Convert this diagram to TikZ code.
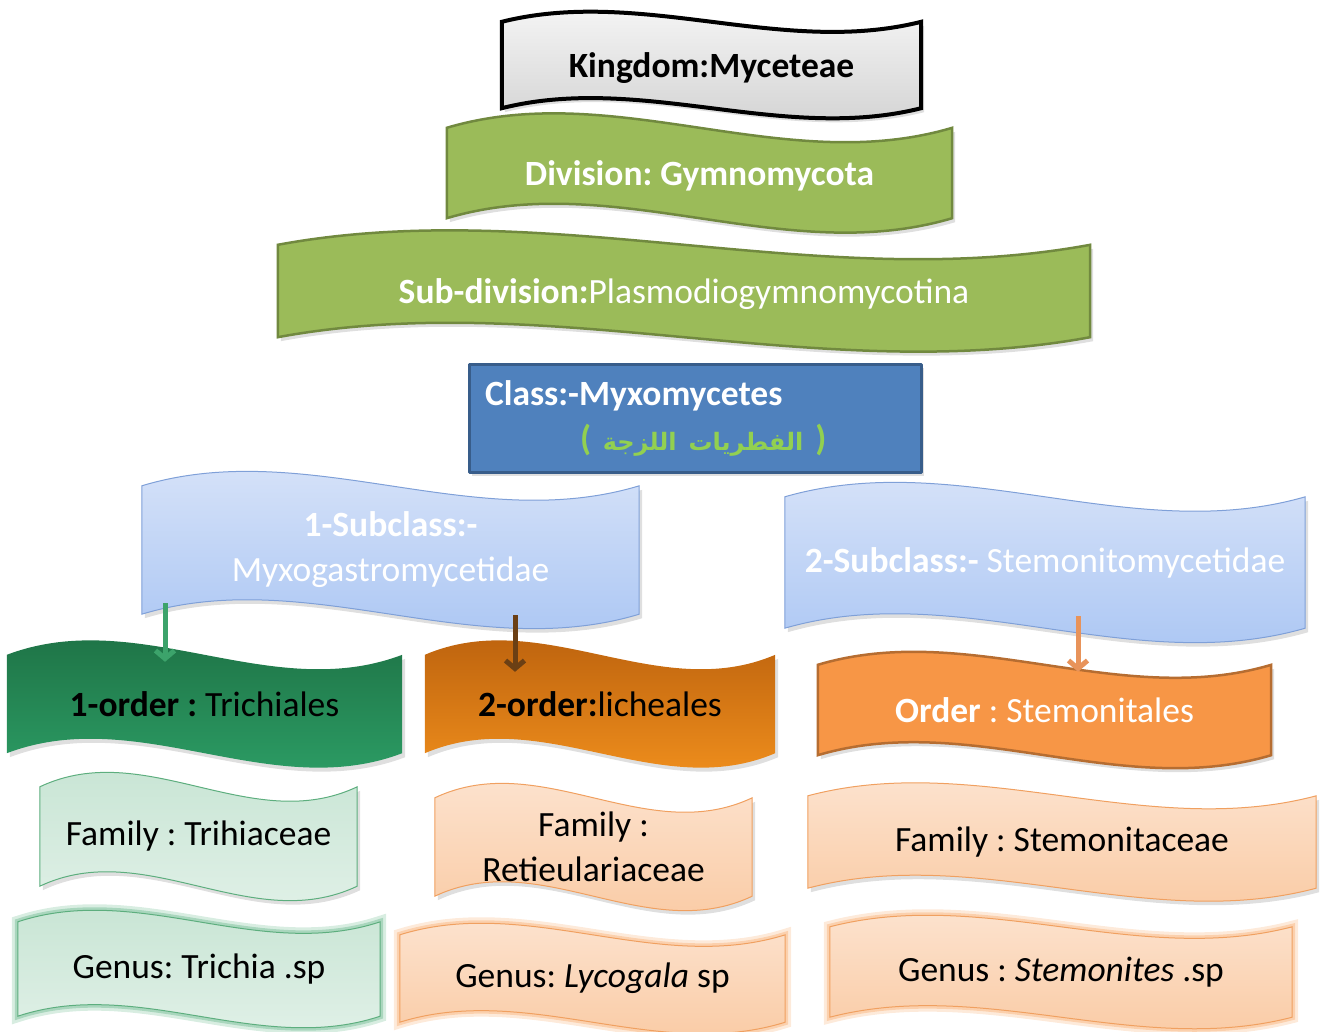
\documentclass[tikz,border=0pt]{standalone}
\usepackage{fontspec}
\setmainfont{Carlito}
\newfontfamily\arabicfont[Script=Arabic]{DejaVu Sans}
\TeXXeTstate=1
\frenchspacing
\usetikzlibrary{calc,backgrounds,shadows,arrows.meta}

\definecolor{leafgreen}{HTML}{9BBB59}
\definecolor{leafedge}{HTML}{71893F}
\definecolor{classblue}{HTML}{4F81BD}
\definecolor{classedge}{HTML}{385D8A}
\definecolor{arabgreen}{HTML}{92D050}
\definecolor{skytop}{HTML}{DCE6F9}
\definecolor{skybottom}{HTML}{A6C3F3}
\definecolor{skyedge}{HTML}{7FA0D8}
\definecolor{pinetop}{HTML}{1C6B40}
\definecolor{pinebottom}{HTML}{2EA46A}
\definecolor{rusttop}{HTML}{B35A0B}
\definecolor{rustbottom}{HTML}{F8961F}
\definecolor{orange}{HTML}{F79646}
\definecolor{orangeedge}{HTML}{B66D31}
\definecolor{minttop}{HTML}{C4E3D1}
\definecolor{mintbottom}{HTML}{E4F2EA}
\definecolor{mintedge}{HTML}{5DAE7E}
\definecolor{peachtop}{HTML}{FDE7D6}
\definecolor{peachbottom}{HTML}{F9C79E}
\definecolor{peachedge}{HTML}{F0A060}
\definecolor{arrowgreen}{HTML}{3CA36B}
\definecolor{arrowbrown}{HTML}{6B3F14}
\definecolor{arroworange}{HTML}{E8935A}

% wave banner round a node: node name, bend, path options
\newcommand{\wave}[3]{%
  \path[#3] (#1.north west)
    .. controls ($(#1.north west)!.333!(#1.north east)+(0,-#2)$)
    and ($(#1.north west)!.667!(#1.north east)+(0,#2)$) .. (#1.north east)
    -- (#1.south east)
    .. controls ($(#1.south west)!.667!(#1.south east)+(0,#2)$)
    and ($(#1.south west)!.333!(#1.south east)+(0,-#2)$) .. (#1.south west)
    -- cycle;}

\begin{document}
\begin{tikzpicture}[x=1pt, y=-1pt, line join=round]
    \tikzstyle{band} = [inner sep=0pt, align=center, font=\fontsize{35.5}{45}\selectfont]
    \tikzstyle{dropped} = [drop shadow={opacity=0.25, shadow xshift=3pt, shadow yshift=-4pt}]
    \tikzstyle{greenglow} = [preaction={draw=arrowgreen, line width=12pt, opacity=0.2},
                             preaction={draw=arrowgreen, line width=6pt, opacity=0.3}]
    \tikzstyle{orangeglow} = [preaction={draw=orange, line width=12pt, opacity=0.2},
                              preaction={draw=orange, line width=6pt, opacity=0.3}]
    \tikzstyle{arrowline} = [-{Straight Barb[length=8pt, width=19pt]}, line width=5pt]

    \useasboundingbox (0,0) rectangle (1327,1032);

    \node[band, text depth=0pt, minimum width=419pt, minimum height=86pt] (kingdom) at (711.5,65) {\textbf{Kingdom:Myceteae}};
    \node[band, text depth=0pt, white, minimum width=505pt, minimum height=90pt] (division) at (699.5,173) {\textbf{Division: Gymnomycota}};
    \node[band, text depth=0pt, white, minimum width=812pt, minimum height=92pt] (subdivision) at (684,291) {\textbf{Sub-division:}Plasmodiogymnomycotina};
    \node[band, white, align=left, draw=classedge, line width=3pt, fill=classblue, dropped,
          text width=420pt, inner xsep=16pt, minimum height=108pt] (class) at (695,418)
          {\textbf{Class:-Myxomycetes}\\\hspace*{95pt}{\color{arabgreen}\textbf{(}
           {\arabicfont\bfseries\fontsize{24}{45}\selectfont\beginR الفطريات اللزجة\endR} \textbf{)}}};

    \node[band, white, minimum width=497pt, minimum height=128pt] (sub1) at (390.5,550) {\textbf{1-Subclass:-}\\Myxogastromycetidae};
    \node[band, white, minimum width=520pt, minimum height=131pt] (sub2) at (1045,562.5) {\textbf{2-Subclass:-} Stemonitomycetidae};

    \node[band, minimum width=395pt, minimum height=98pt] (order1) at (204.5,704) {\textbf{1-order :} Trichiales};
    \node[band, minimum width=350pt, minimum height=98pt] (order2) at (600,704) {\textbf{2-order:}licheales};
    \node[band, white, minimum width=453pt, minimum height=90pt] (order3) at (1044.5,710) {\textbf{Order} : Stemonitales};

    \node[band, minimum width=317pt, minimum height=99pt] (family1) at (198.5,836.5) {Family : Trihiaceae};
    \node[band, minimum width=317pt, minimum height=98pt] (family2) at (593.5,847) {Family :\\Retieulariaceae};
    \node[band, minimum width=508pt, minimum height=92pt] (family3) at (1062,842) {Family : Stemonitaceae};

    \node[band, minimum width=362pt, minimum height=94pt] (genus1) at (199,969) {Genus: Trichia .sp};
    \node[band, minimum width=385pt, minimum height=87pt] (genus2) at (592.5,978.5) {Genus: \textit{Lycogala} sp};
    \node[band, minimum width=462pt, minimum height=90pt] (genus3) at (1061,972) {Genus : \textit{Stemonites} .sp};

    \begin{scope}[on background layer]
        \wave{kingdom}{35}{draw=black, line width=4pt, top color=gray!4, bottom color=gray!38, dropped}
        \wave{division}{50}{draw=leafedge, line width=2.5pt, fill=leafgreen, dropped}
        \wave{subdivision}{50}{draw=leafedge, line width=2.5pt, fill=leafgreen, dropped}
        \wave{sub1}{50}{draw=skyedge, line width=1pt, top color=skytop, bottom color=skybottom, dropped}
        \wave{sub2}{50}{draw=skyedge, line width=1pt, top color=skytop, bottom color=skybottom, dropped}
        \wave{order1}{50}{top color=pinetop, bottom color=pinebottom, dropped}
        \wave{order2}{50}{top color=rusttop, bottom color=rustbottom, dropped}
        \wave{order3}{45}{draw=orangeedge, line width=2.5pt, fill=orange, dropped}
        \wave{family1}{50}{draw=mintedge, line width=1pt, top color=minttop, bottom color=mintbottom, dropped}
        \wave{family2}{50}{draw=peachedge, line width=1pt, top color=peachtop, bottom color=peachbottom, dropped}
        \wave{family3}{45}{draw=peachedge, line width=1pt, top color=peachtop, bottom color=peachbottom, dropped}
        \wave{genus1}{40}{draw=mintedge, line width=1pt, top color=minttop, bottom color=mintbottom, greenglow}
        \wave{genus2}{40}{draw=peachedge, line width=1pt, top color=peachtop, bottom color=peachbottom, orangeglow}
        \wave{genus3}{40}{draw=peachedge, line width=1pt, top color=peachtop, bottom color=peachbottom, orangeglow}
    \end{scope}

    \draw [arrowline, draw=arrowgreen] ([xshift=-225.5pt, yshift=11pt]sub1.south) -- ([xshift=-39.5pt, yshift=-7pt]order1.north);
    \draw [arrowline, draw=arrowbrown] ([xshift=124.5pt, yshift=-1pt]sub1.south) -- ([xshift=-85pt, yshift=-17pt]order2.north);
    \draw [arrowline, draw=arroworange] ([xshift=33pt, yshift=12pt]sub2.south) -- ([xshift=33.5pt, yshift=-7pt]order3.north);
\end{tikzpicture}
\end{document}
